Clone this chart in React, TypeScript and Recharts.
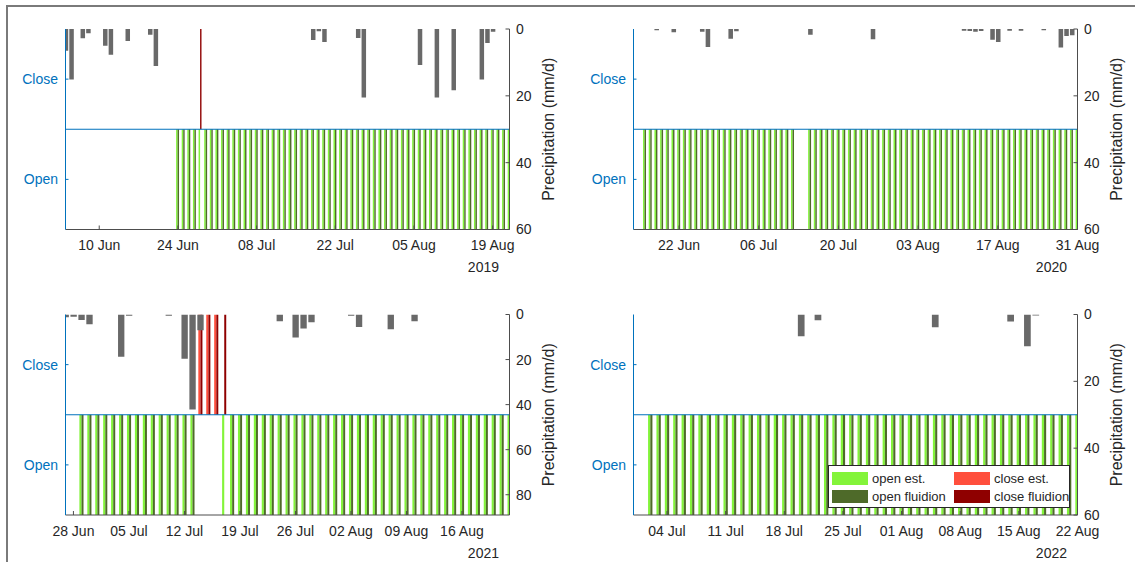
import React from 'react';
import { ComposedChart, Bar, XAxis, YAxis, ReferenceLine, Cell, Legend } from 'recharts';

type Range = [string, string];

// ---------------- 2019 ----------------
const domain2019: Range = ['2019-06-04', '2019-08-22'];
const ticks2019 = ['2019-06-10', '2019-06-24', '2019-07-08', '2019-07-22', '2019-08-05', '2019-08-19'];
const precipDates2019 = ['2019-06-04', '2019-06-05', '2019-06-07', '2019-06-08', '2019-06-11', '2019-06-12', '2019-06-15', '2019-06-19', '2019-06-20', '2019-07-18', '2019-07-19', '2019-07-20', '2019-07-26', '2019-07-27', '2019-08-06', '2019-08-09', '2019-08-12', '2019-08-17', '2019-08-18', '2019-08-19'];
const precipValues2019 = [6.5, 15.1, 2.8, 1.3, 5.0, 7.7, 3.6, 1.7, 11.1, 3.3, 0.7, 3.9, 2.7, 20.5, 10.8, 20.5, 18.3, 15.1, 4.2, 0.8];
const openEst2019: Range[] = [['2019-06-24', '2019-08-22']];
const openFluidion2019: Range[] = [['2019-06-24', '2019-06-27'], ['2019-06-29', '2019-08-22']];
const closeEst2019: Range[] = [];
const closeFluidion2019: Range[] = [['2019-06-28', '2019-06-28']];
const precipTicks2019 = [0, 20, 40, 60];
const precipMax2019 = 60;

// ---------------- 2020 ----------------
const domain2020: Range = ['2020-06-14', '2020-08-31'];
const ticks2020 = ['2020-06-22', '2020-07-06', '2020-07-20', '2020-08-03', '2020-08-17', '2020-08-31'];
const precipDates2020 = ['2020-06-18', '2020-06-21', '2020-06-26', '2020-06-27', '2020-07-01', '2020-07-02', '2020-07-15', '2020-07-26', '2020-08-11', '2020-08-12', '2020-08-13', '2020-08-14', '2020-08-16', '2020-08-17', '2020-08-19', '2020-08-21', '2020-08-25', '2020-08-28', '2020-08-29', '2020-08-30'];
const precipValues2020 = [0.4, 1.0, 0.8, 5.4, 2.9, 0.7, 1.7, 3.1, 0.5, 0.6, 0.8, 0.6, 3.2, 3.9, 0.5, 0.5, 0.4, 5.5, 2.1, 1.9];
const openEst2020: Range[] = [['2020-06-16', '2020-07-12'], ['2020-07-15', '2020-08-31']];
const openFluidion2020: Range[] = [['2020-06-16', '2020-07-12'], ['2020-07-15', '2020-08-31']];
const closeEst2020: Range[] = [];
const closeFluidion2020: Range[] = [];
const precipTicks2020 = [0, 20, 40, 60];
const precipMax2020 = 60;

// ---------------- 2021 ----------------
const domain2021: Range = ['2021-06-27', '2021-08-22'];
const ticks2021 = ['2021-06-28', '2021-07-05', '2021-07-12', '2021-07-19', '2021-07-26', '2021-08-02', '2021-08-09', '2021-08-16'];
const precipDates2021 = ['2021-06-27', '2021-06-28', '2021-06-29', '2021-06-30', '2021-07-04', '2021-07-05', '2021-07-10', '2021-07-12', '2021-07-13', '2021-07-14', '2021-07-24', '2021-07-26', '2021-07-27', '2021-07-28', '2021-08-02', '2021-08-03', '2021-08-07', '2021-08-10'];
const precipValues2021 = [1.2, 1.0, 2.4, 4.3, 18.8, 0.5, 0.6, 19.6, 42.2, 7.0, 3.0, 10.2, 6.2, 3.4, 0.5, 5.5, 6.5, 3.0];
const openEst2021: Range[] = [['2021-06-29', '2021-07-13'], ['2021-07-17', '2021-08-22']];
const openFluidion2021: Range[] = [['2021-06-29', '2021-07-13'], ['2021-07-18', '2021-08-22']];
const closeEst2021: Range[] = [['2021-07-14', '2021-07-16']];
const closeFluidion2021: Range[] = [['2021-07-14', '2021-07-17']];
const precipTicks2021 = [0, 20, 40, 60, 80];
const precipMax2021 = 89;

// ---------------- 2022 ----------------
const domain2022: Range = ['2022-06-30', '2022-08-22'];
const ticks2022 = ['2022-07-04', '2022-07-11', '2022-07-18', '2022-07-25', '2022-08-01', '2022-08-08', '2022-08-15', '2022-08-22'];
const precipDates2022 = ['2022-07-20', '2022-07-22', '2022-08-05', '2022-08-14', '2022-08-16', '2022-08-17'];
const precipValues2022 = [6.5, 1.7, 3.8, 2.1, 9.5, 0.3];
const openEst2022: Range[] = [['2022-07-02', '2022-08-22']];
const openFluidion2022: Range[] = [['2022-07-02', '2022-08-22']];
const closeEst2022: Range[] = [];
const closeFluidion2022: Range[] = [];
const precipTicks2022 = [0, 20, 40, 60];
const precipMax2022 = 60;

const statusLabels = ['Open', 'Close'];
const legendLabels = ['open est.', 'open fluidion', 'close est.', 'close fluidion'];
const precipAxisLabel = 'Precipitation (mm/d)';
const MONTHS = ['Jan', 'Feb', 'Mar', 'Apr', 'May', 'Jun', 'Jul', 'Aug', 'Sep', 'Oct', 'Nov', 'Dec'];

// ---------------- styles ----------------
const FONT = '"Liberation Sans", Arial, Helvetica, sans-serif';
const BLUE = '#0072BD';
const AXIS = '#4d4d4d';
const TXT = '#262626';
const OPEN_EST = '#83F43A';
const OPEN_FL = '#4E6A29';
const CLOSE_EST = '#FF4F3D';
const CLOSE_FL = '#8F0000';
const PRECIP = '#696969';
const legendColors = [OPEN_EST, OPEN_FL, CLOSE_EST, CLOSE_FL];

const DAY_MS = 86400000;
const toDay = (s: string) => {
  const [y, m, d] = s.split('-').map(Number);
  return Date.UTC(y, m - 1, d) / DAY_MS;
};
const fmtDay = (v: number) => {
  const dt = new Date(Math.round(v) * DAY_MS);
  return String(dt.getUTCDate()).padStart(2, '0') + ' ' + MONTHS[dt.getUTCMonth()];
};

interface PanelData {
  year: string;
  domain: Range;
  ticks: string[];
  precipDates: string[];
  precipValues: number[];
  precipTicks: number[];
  precipMax: number;
  openEst: Range[];
  openFluidion: Range[];
  closeEst: Range[];
  closeFluidion: Range[];
}

const panels: PanelData[] = [
  { year: '2019', domain: domain2019, ticks: ticks2019, precipDates: precipDates2019, precipValues: precipValues2019, precipTicks: precipTicks2019, precipMax: precipMax2019, openEst: openEst2019, openFluidion: openFluidion2019, closeEst: closeEst2019, closeFluidion: closeFluidion2019 },
  { year: '2020', domain: domain2020, ticks: ticks2020, precipDates: precipDates2020, precipValues: precipValues2020, precipTicks: precipTicks2020, precipMax: precipMax2020, openEst: openEst2020, openFluidion: openFluidion2020, closeEst: closeEst2020, closeFluidion: closeFluidion2020 },
  { year: '2021', domain: domain2021, ticks: ticks2021, precipDates: precipDates2021, precipValues: precipValues2021, precipTicks: precipTicks2021, precipMax: precipMax2021, openEst: openEst2021, openFluidion: openFluidion2021, closeEst: closeEst2021, closeFluidion: closeFluidion2021 },
  { year: '2022', domain: domain2022, ticks: ticks2022, precipDates: precipDates2022, precipValues: precipValues2022, precipTicks: precipTicks2022, precipMax: precipMax2022, openEst: openEst2022, openFluidion: openFluidion2022, closeEst: closeEst2022, closeFluidion: closeFluidion2022 },
];

const inRanges = (rs: Range[], d: number) => rs.some(([a, b]) => d >= toDay(a) && d <= toDay(b));

function buildRows(p: PanelData) {
  const start = toDay(p.domain[0]);
  const end = toDay(p.domain[1]);
  const rain = new Map<number, number>();
  p.precipDates.forEach((s, i) => rain.set(toDay(s), p.precipValues[i]));
  const rows: any[] = [];
  for (let d = start; d <= end; d++) {
    const est = inRanges(p.openEst, d) ? 'open' : inRanges(p.closeEst, d) ? 'close' : null;
    const fl = inRanges(p.openFluidion, d) ? 'open' : inRanges(p.closeFluidion, d) ? 'close' : null;
    rows.push({
      day: d,
      est: est === 'open' ? [0, 1] : est === 'close' ? [1, 2] : null,
      estState: est,
      fl: fl === 'open' ? [0, 1] : fl === 'close' ? [1, 2] : null,
      flState: fl,
      precip: rain.has(d) ? rain.get(d) : null,
    });
  }
  return rows;
}

const YearLabel = (props: any) => {
  const vb = props.viewBox || { x: 0, y: 0, width: 0 };
  return (
    <text x={vb.x + vb.width - 10.5} y={vb.y + 42.5} textAnchor="end" fill={TXT} fontSize={14} fontFamily={FONT}>
      {props.year}
    </text>
  );
};

const PrecipLabel = (props: any) => {
  const vb = props.viewBox || { x: 0, y: 0, height: 0 };
  const cx = vb.x + 38.5;
  const cy = vb.y + vb.height / 2;
  return (
    <text x={cx} y={cy} transform={`rotate(-90 ${cx} ${cy})`} textAnchor="middle" dominantBaseline="central" fill={TXT} fontSize={16} fontFamily={FONT}>
      {precipAxisLabel}
    </text>
  );
};

const LegendBox = () => {
  const colX = [3, 125];
  const rowY = [6, 24];
  return (
    <div style={{ position: 'relative', width: 242, height: 43, boxSizing: 'border-box', border: '1px solid #262626', background: '#fff', fontFamily: FONT, fontSize: 13, color: TXT }}>
      {legendLabels.map((lab, i) => {
        const col = i < 2 ? 0 : 1;
        const row = i % 2;
        return (
          <React.Fragment key={lab}>
            <div style={{ position: 'absolute', left: colX[col], top: rowY[row], width: 36, height: 13, background: legendColors[i] }} />
            <div style={{ position: 'absolute', left: colX[col] + 40, top: rowY[row] - 2, lineHeight: '17px', whiteSpace: 'nowrap' }}>{lab}</div>
          </React.Fragment>
        );
      })}
    </div>
  );
};

interface Geo {
  left: number; top: number; width: number; height: number;
  yLeftW: number; yRightW: number; mTop: number; xH: number; legend?: boolean;
}

function Panel({ p, g }: { p: PanelData; g: Geo }) {
  const rows = buildRows(p);
  const start = toDay(p.domain[0]);
  const end = toDay(p.domain[1]);
  const plotW = g.width - g.yLeftW - g.yRightW;
  const pxDay = plotW / (end - start);
  const tickDays = p.ticks.map(toDay);
  return (
    <div style={{ position: 'absolute', left: g.left, top: g.top }}>
      <ComposedChart width={g.width} height={g.height} data={rows} margin={{ top: g.mTop, right: 0, bottom: 0, left: 0 }} barGap={0} barCategoryGap={0}>
        <XAxis xAxisId="s" dataKey="day" type="number" domain={[start, end]} allowDataOverflow ticks={tickDays} interval={0}
          tickFormatter={fmtDay} height={g.xH} tickSize={-4} tickMargin={15} stroke={AXIS}
          tick={{ fill: TXT, fontSize: 14 }} label={<YearLabel year={p.year} />} />
        <XAxis xAxisId="p" dataKey="day" type="number" domain={[start, end]} allowDataOverflow ticks={tickDays} interval={0}
          orientation="top" height={0} tickFormatter={() => ''} tickSize={-4} stroke={AXIS} />
        <YAxis yAxisId="s" type="number" domain={[0, 2]} ticks={[0.5, 1.5]} interval={0} allowDataOverflow
          tickFormatter={(v: number) => (v < 1 ? statusLabels[0] : statusLabels[1])} width={g.yLeftW}
          stroke={BLUE} tick={{ fill: BLUE, fontSize: 14 }} tickSize={-3} tickMargin={10.5} />
        <YAxis yAxisId="p" orientation="right" type="number" domain={[0, p.precipMax]} reversed ticks={p.precipTicks} interval={0}
          allowDataOverflow width={g.yRightW} stroke={AXIS} tick={{ fill: TXT, fontSize: 14 }} tickSize={-4} tickMargin={10.5}
          label={<PrecipLabel />} />
        <Bar xAxisId="s" yAxisId="s" dataKey="est" barSize={0.27 * pxDay} isAnimationActive={false}>
          {rows.map((r, i) => (
            <Cell key={`e${i}`} fill={r.estState === 'close' ? CLOSE_EST : OPEN_EST} />
          ))}
        </Bar>
        <Bar xAxisId="s" yAxisId="s" dataKey="fl" barSize={0.25 * pxDay} isAnimationActive={false}>
          {rows.map((r, i) => (
            <Cell key={`f${i}`} fill={r.flState === 'close' ? CLOSE_FL : OPEN_FL} />
          ))}
        </Bar>
        <Bar xAxisId="p" yAxisId="p" dataKey="precip" barSize={0.8 * pxDay} fill={PRECIP} isAnimationActive={false} />
        <ReferenceLine xAxisId="s" yAxisId="s" y={1} stroke={BLUE} strokeWidth={1} />
        {g.legend && (
          <Legend verticalAlign="middle" align="center" layout="horizontal"
            wrapperStyle={{ left: 261, top: 180, width: 242, height: 43 }}
            content={() => <LegendBox />} />
        )}
      </ComposedChart>
    </div>
  );
}

const geos: Geo[] = [
  { left: 0, top: 0, width: 567, height: 285, yLeftW: 65.5, yRightW: 57.5, mTop: 29, xH: 55.5 },
  { left: 567, top: 0, width: 568, height: 285, yLeftW: 66.5, yRightW: 57.5, mTop: 29, xH: 55.5 },
  { left: 0, top: 285, width: 567, height: 277, yLeftW: 65.5, yRightW: 57.5, mTop: 29.5, xH: 47 },
  { left: 567, top: 285, width: 568, height: 277, yLeftW: 66.5, yRightW: 57.5, mTop: 29.5, xH: 47, legend: true },
];

export default function App() {
  return (
    <div style={{ position: 'absolute', left: 0, top: 0, width: 1135, height: 562, background: '#fff', overflow: 'hidden', fontFamily: FONT }}>
      <div style={{ position: 'absolute', left: 6, top: 5, width: 1200, height: 600, borderTop: '2px solid #7a7a7a', borderLeft: '2px solid #7a7a7a' }} />
      {panels.map((p, i) => (
        <Panel key={p.year} p={p} g={geos[i]} />
      ))}
    </div>
  );
}
